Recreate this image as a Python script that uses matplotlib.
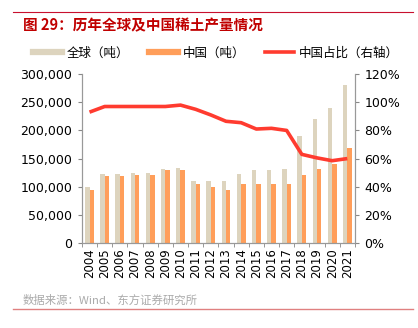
import matplotlib
matplotlib.use("Agg")
import matplotlib.pyplot as plt
from matplotlib.ticker import FuncFormatter, MultipleLocator, FixedLocator
from matplotlib.lines import Line2D
import numpy as np

plt.rcParams['font.family'] = ['Noto Sans CJK SC', 'DejaVu Sans']

years = ['2004', '2005', '2006', '2007', '2008', '2009', '2010', '2011', '2012',
         '2013', '2014', '2015', '2016', '2017', '2018', '2019', '2020', '2021']
global_t = [100000, 122000, 122000, 124000, 124000, 132000, 133000, 111000, 110000,
            110000, 123000, 130000, 129000, 132000, 190000, 220000, 240000, 280000]
china_t = [95000, 119000, 119000, 120000, 120000, 129000, 130000, 105000, 100000,
           95000, 105000, 105000, 105000, 105000, 120000, 132000, 140000, 168000]
share = [0.93, 0.97, 0.97, 0.97, 0.97, 0.97, 0.98, 0.95, 0.91,
         0.865, 0.855, 0.81, 0.815, 0.80, 0.63, 0.605, 0.585, 0.60]

c_global = '#DDD4BE'
c_china = '#FF9E5A'
c_line = '#FF3B2F'
c_title = '#C00000'

fig = plt.figure(figsize=(4.18, 3.28), dpi=100)
ax = fig.add_axes([0.196, 0.259, 0.653, 0.515])
ax2 = ax.twinx()

x = np.arange(len(years))
w = 0.29
ax.bar(x - w / 2, global_t, width=w, color=c_global, zorder=2)
ax.bar(x + w / 2, china_t, width=w, color=c_china, zorder=2)
ax2.plot(x, share, color=c_line, lw=2.6, solid_capstyle='butt', zorder=3)

ax.set_xlim(-0.5, len(years) - 0.5)
ax.set_ylim(0, 300000)
ax2.set_ylim(0, 1.2)
ax.yaxis.set_major_locator(MultipleLocator(50000))
ax.yaxis.set_major_formatter(FuncFormatter(lambda v, p: f'{int(v):,}'))
ax2.yaxis.set_major_locator(MultipleLocator(0.2))
ax2.yaxis.set_major_formatter(FuncFormatter(lambda v, p: f'{v*100:.0f}%'))
ax.set_xticks(x)
ax.set_xticklabels(years, rotation=90, fontsize=8.5, family=['DejaVu Sans'])
ax.xaxis.set_minor_locator(FixedLocator(np.arange(-0.5, len(years), 1)))
ax.tick_params(axis='x', which='major', length=0, pad=4)
ax.tick_params(axis='x', which='minor', length=3, color='#888888', direction='out')

for a in (ax, ax2):
    for s in a.spines.values():
        s.set_color('#999999')
        s.set_linewidth(0.8)
    a.spines['top'].set_visible(False)
ax.tick_params(axis='y', length=3, color='#888888', labelsize=9, pad=4)
ax2.tick_params(axis='y', length=3, color='#888888', labelsize=9, pad=4)
for lab in ax.get_yticklabels() + ax2.get_yticklabels():
    lab.set_family(['DejaVu Sans'])

handles = [Line2D([0], [0], color=c_global, lw=4.5),
           Line2D([0], [0], color=c_china, lw=4.5),
           Line2D([0], [0], color=c_line, lw=2.6)]
labels = ['全球（吨）', '中国（吨）', '中国占比（右轴）']
fig.legend(handles, labels, loc='center', bbox_to_anchor=(0.517, 0.838), ncol=3,
           frameon=False, fontsize=9, handlelength=2.3, columnspacing=1.6,
           handletextpad=0.4)

fig.text(0.055, 0.923, '图 29：历年全球及中国稀土产量情况', color=c_title,
         fontsize=10.5, fontweight='bold', va='center')
fig.add_artist(Line2D([0.031, 0.988], [0.963, 0.963], color='#C8102E', lw=0.8,
                      transform=fig.transFigure))
fig.text(0.053, 0.085, '数据来源：Wind、东方证券研究所', color='#AAAAAA',
         fontsize=8.2, va='center')
fig.add_artist(Line2D([0.031, 0.988], [0.058, 0.058], color='#E08080', lw=1.0,
                      transform=fig.transFigure))

fig.savefig('out.png', dpi=100)
